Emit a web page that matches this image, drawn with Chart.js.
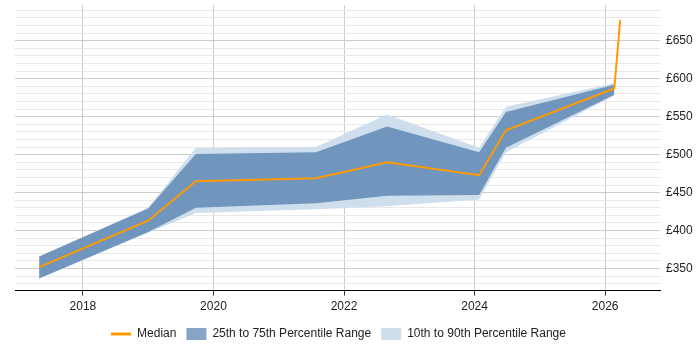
<!DOCTYPE html>
<html>
<head>
<meta charset="utf-8">
<script src="https://cdn.jsdelivr.net/npm/chart.js@4"></script>
<style>
  html, body { margin: 0; padding: 0; background: #fff; }
  #wrap { width: 700px; height: 350px; }
</style>
</head>
<body>
<div id="wrap"><canvas id="chart"></canvas></div>
<script>
// time points (decimal years)
const years = [2017.33, 2019.0, 2019.73, 2021.57, 2022.66, 2024.07, 2024.48, 2026.14, 2026.23];
const median = [352, 413, 465, 469, 490, 473, 532, 587, 677];
const p25 = [337, 398, 430, 436, 446, 447, 509, 579, null];
const p75 = [366, 429, 501, 503, 537, 503, 556, 592, null];
const p10 = [337, 397, 423, 428, 432, 441, 503, 578, null];
const p90 = [366, 430, 509, 510, 553, 509, 563, 594, null];
const xTicks = [2018, 2020, 2022, 2024, 2026];
const yMajor = [350, 400, 450, 500, 550, 600, 650];

const pts = arr => years.map((x, i) => ({ x: x, y: arr[i] })).filter(p => p.y !== null);

const font = { family: 'Liberation Sans, Arial, sans-serif', size: 12 };

// legend sits centred under the plot area rather than the whole canvas
const shiftLegend = {
    id: 'shiftLegend',
    afterLayout(chart) {
        chart.legend.left -= 19;
        chart.legend.right -= 19;
    }
};

const ctx = document.getElementById('chart').getContext('2d');
const chart = new Chart(ctx, {
    type: 'line',
    data: {
        datasets: [
            { label: 'Median', data: pts(median), borderColor: '#ff9900', borderWidth: 2, pointRadius: 0, fill: false, order: 0 },
            { label: 'p75', data: pts(p75), borderWidth: 0, pointRadius: 0, backgroundColor: 'rgba(106,145,188,0.95)', fill: 2, order: 1 },
            { label: 'p25', data: pts(p25), borderWidth: 0, pointRadius: 0, fill: false, order: 1 },
            { label: 'p90', data: pts(p90), borderWidth: 0, pointRadius: 0, backgroundColor: '#cfdeed', fill: 4, order: 2 },
            { label: 'p10', data: pts(p10), borderWidth: 0, pointRadius: 0, fill: false, order: 2 }
        ]
    },
    plugins: [shiftLegend],
    options: {
        responsive: true,
        maintainAspectRatio: false,
        animation: false,
        layout: { padding: { left: 15, right: 0, top: 5, bottom: 0 } },
        plugins: {
            tooltip: { enabled: false },
            legend: {
                position: 'bottom',
                labels: {
                    font: font,
                    color: '#222',
                    usePointStyle: true,
                    pointStyleWidth: 20,
                    boxHeight: 16,
                    padding: 10,
                    generateLabels: () => [
                        { text: 'Median', pointStyle: 'line', strokeStyle: '#ff9900', fillStyle: '#ff9900', lineWidth: 3, fontColor: '#222' },
                        { text: '25th to 75th Percentile Range', pointStyle: 'rect', fillStyle: '#85a4c6', strokeStyle: '#85a4c6', lineWidth: 0, fontColor: '#222' },
                        { text: '10th to 90th Percentile Range', pointStyle: 'rect', fillStyle: '#cfdeed', strokeStyle: '#cfdeed', lineWidth: 0, fontColor: '#222' }
                    ]
                }
            }
        },
        scales: {
            x: {
                type: 'linear',
                min: 2016.96,
                max: 2026.84,
                afterBuildTicks: axis => { axis.ticks = xTicks.map(v => ({ value: v })); },
                ticks: { font: font, color: '#222', callback: v => String(v), maxRotation: 0, padding: 4 },
                grid: { color: '#cccccc', tickColor: '#333', tickLength: 5 },
                border: { color: '#000', width: 1 }
            },
            y: {
                position: 'right',
                min: 321,
                max: 697,
                afterBuildTicks: axis => {
                    const t = [];
                    for (let v = 330; v <= 690; v += 10) t.push({ value: v });
                    axis.ticks = t;
                },
                afterFit: axis => {
                    axis.width = 40;
                    axis.paddingTop = 0;
                    axis.paddingBottom = 0;
                },
                ticks: {
                    font: font,
                    color: '#222',
                    padding: 6,
                    autoSkip: false,
                    callback: v => yMajor.includes(v) ? '£' + v : ''
                },
                grid: {
                    color: c => yMajor.includes(c.tick.value) ? '#cccccc' : '#e8e8e8',
                    drawTicks: false
                },
                border: { display: false }
            }
        }
    }
});
</script>
</body>
</html>
